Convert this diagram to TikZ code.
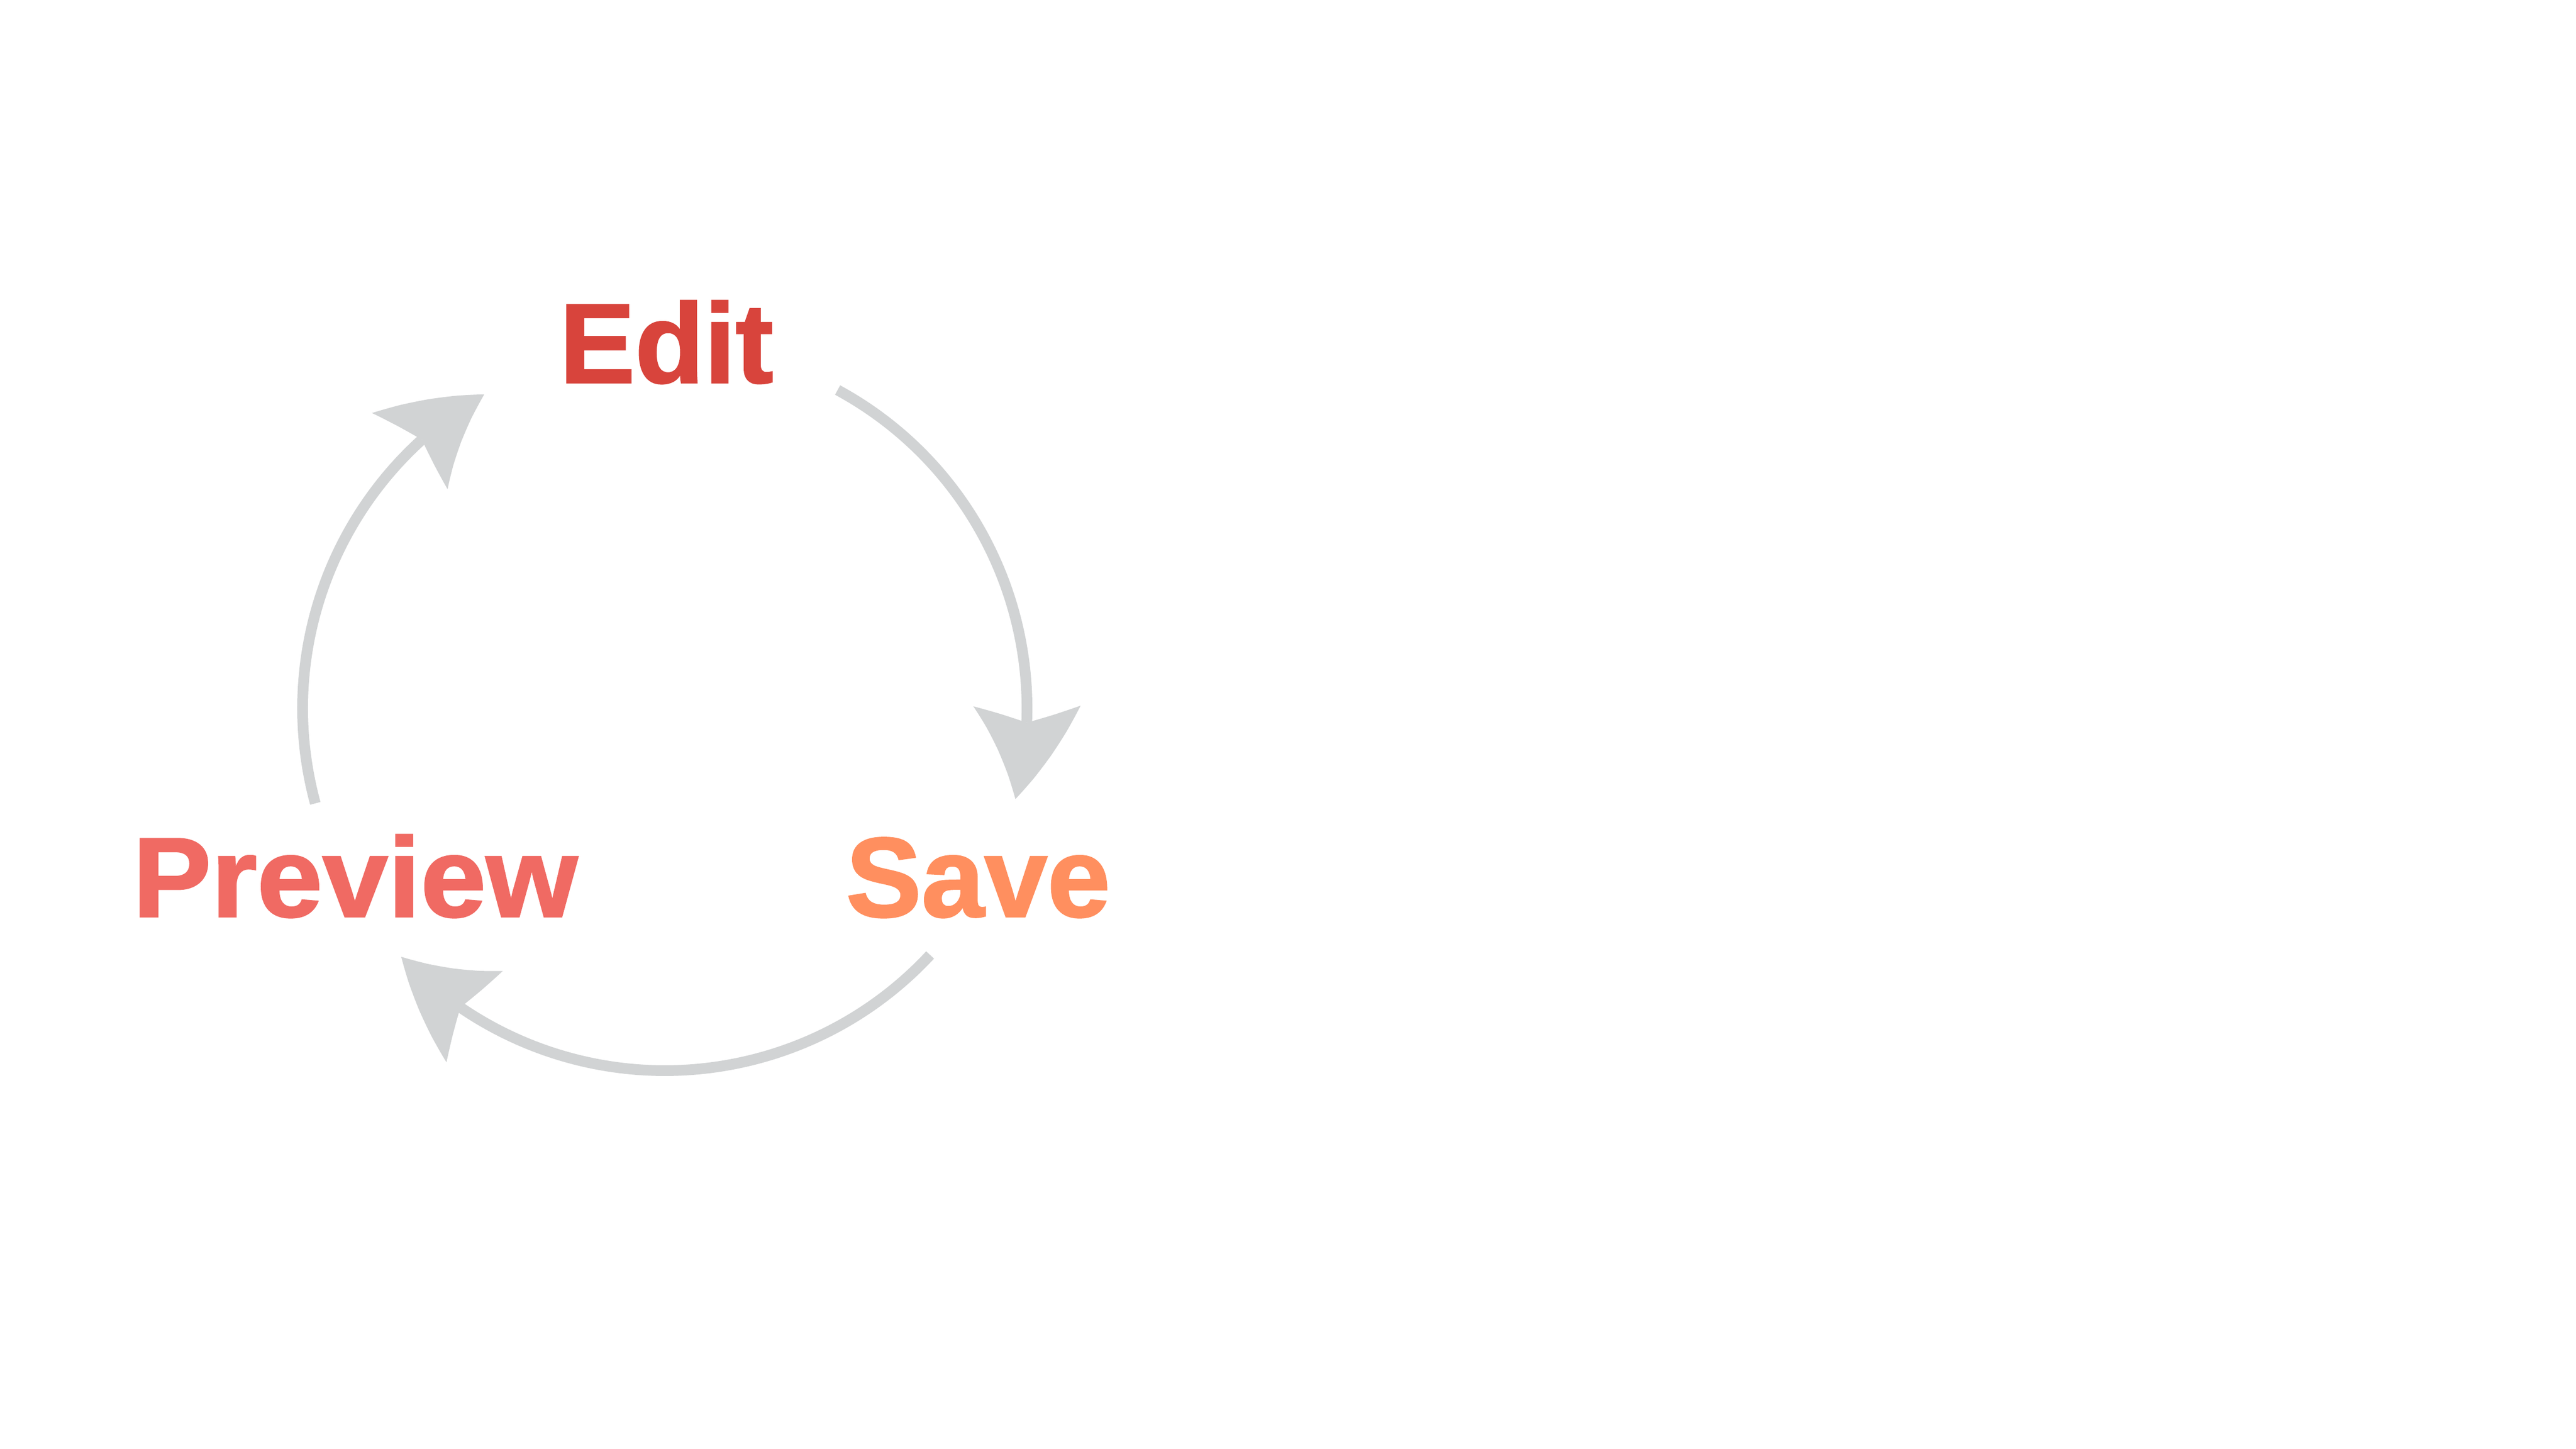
\documentclass[tikz,border=0pt]{standalone}
\usepackage{fontspec}
\setmainfont{Liberation Sans}[BoldFeatures={FakeBold=1.5}]
\usetikzlibrary{arrows.meta,bending}
\definecolor{editred}{HTML}{D8443C}
\definecolor{previewred}{HTML}{F06A63}
\definecolor{saveorange}{HTML}{FF8F5F}
\definecolor{loopgray}{HTML}{D1D3D4}
\begin{document}
\begin{tikzpicture}
      \fill[white] (0,0) rectangle (48.01,27);
      \coordinate (hub) at (12.39,13.80);
      \begin{scope}[every node/.style={inner sep=0pt,anchor=base,font=\fontsize{60}{60}\selectfont\bfseries}]
        \node[text=editred] (edit) at (12.42,19.87) {Edit};
        \node[text=saveorange] (save) at (18.23,9.92) {Save};
        \node[text=previewred,xscale=1.04,transform shape] (preview) at (6.62,9.92) {Preview};
      \end{scope}
      \coordinate (edit-out) at ([shift={(61.5:6.75)}]hub);
      \coordinate (save-out) at ([shift={(-42.9:6.75)}]hub);
      \coordinate (preview-out) at ([shift={(195.2:6.75)}]hub);
      \begin{scope}[every path/.style={draw=loopgray,line width=0.2cm,-{Stealth[length=1.78cm,width=2cm,inset=0.32cm,bend,line width=0pt]}}]
        \path (edit-out) arc[start angle=61.5,end angle=-14.5,radius=6.75];
        \path (save-out) arc[start angle=-42.9,end angle=-136.7,radius=6.75];
        \path (preview-out) arc[start angle=195.2,end angle=119.9,radius=6.75];
      \end{scope}
    \end{tikzpicture}
\end{document}
